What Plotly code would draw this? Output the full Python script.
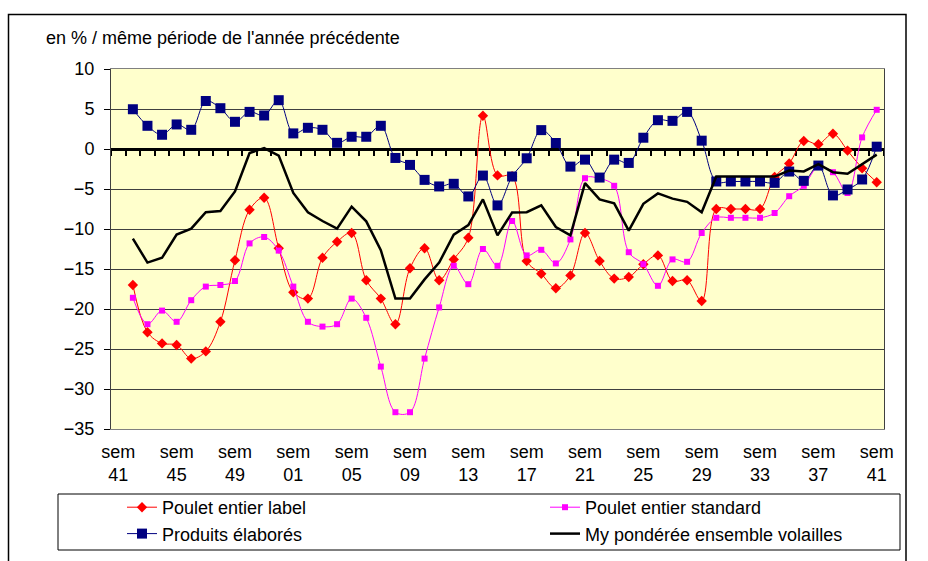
import plotly.graph_objects as go

# ---------------- data ----------------
weeks = [41, 42, 43, 44, 45, 46, 47, 48, 49, 50, 51, 52,
         1, 2, 3, 4, 5, 6, 7, 8, 9, 10, 11, 12, 13, 14, 15, 16, 17, 18, 19, 20,
         21, 22, 23, 24, 25, 26, 27, 28, 29, 30, 31, 32, 33, 34, 35, 36, 37, 38,
         39, 40, 41]

# values from sem 42 (first marker) to sem 41
poulet_label = [-17.0, -22.9, -24.3, -24.5, -26.2, -25.3, -21.6, -13.9, -7.6, -6.1,
                -12.4, -17.9, -18.7, -13.6, -11.6, -10.5, -16.4, -18.7, -21.9, -14.9,
                -12.4, -16.4, -13.8, -11.1, 4.15, -3.3, -3.4, -14.0, -15.6, -17.4,
                -15.8, -10.5, -14.0, -16.2, -16.0, -14.4, -13.3, -16.5, -16.4, -19.0,
                -7.5, -7.5, -7.5, -7.5, -3.5, -1.8, 1.0, 0.6, 1.9, -0.2,
                -2.4, -4.15]
poulet_standard = [-18.6, -21.9, -20.2, -21.6, -18.9, -17.2, -17.0, -16.5, -11.8, -11.0,
                   -12.7, -17.2, -21.6, -22.2, -21.9, -18.7, -21.1, -27.2, -32.9, -32.9,
                   -26.2, -19.8, -14.6, -16.9, -12.5, -14.6, -9.0, -13.3, -12.6, -14.3,
                   -11.3, -3.65, -3.7, -4.6, -12.9, -14.4, -17.1, -13.8, -14.1, -10.5,
                   -8.6, -8.6, -8.6, -8.6, -8.0, -5.9, -4.6, -2.2, -2.9, -5.5,
                   1.45, 4.9]
produits_elabores = [4.97, 2.9, 1.78, 3.07, 2.4, 6.0, 5.1, 3.4, 4.64, 4.19,
                     6.1, 1.95, 2.65, 2.4, 0.77, 1.53, 1.53, 2.9, -1.12, -1.99,
                     -3.86, -4.68, -4.35, -5.93, -3.32, -7.05, -3.44, -1.16, 2.36, 0.75,
                     -2.2, -1.33, -3.57, -1.33, -1.74, 1.41, 3.6, 3.52, 4.64, 1.04,
                     -4.06, -4.06, -4.06, -4.06, -4.23, -2.82, -3.98, -2.07, -5.8, -5.06,
                     -3.81, 0.29]
my_ponderee = [-11.2, -14.2, -13.6, -10.7, -9.95, -7.9, -7.75, -5.3, -0.5, 0.12,
               -0.83, -5.5, -7.9, -9.0, -9.95, -7.2, -9.04, -12.65, -18.7, -18.7,
               -16.3, -14.2, -10.7, -9.5, -6.3, -10.8, -7.95, -7.9, -7.05, -9.75,
               -10.8, -4.27, -6.3, -6.8, -10.2, -6.85, -5.55, -6.2, -6.6, -7.9,
               -3.45, -3.45, -3.45, -3.45, -3.45, -2.7, -2.8, -1.9, -2.9, -3.1,
               -1.9, -0.7]

series_names = ["Poulet entier label", "Poulet entier standard",
                "Produits élaborés", "My pondérée ensemble volailles"]
title_text = "en % / même période de l'année précédente"

# ---------------- layout helpers ----------------
W, H = 928, 561
L, R, T, B = 111, 884, 69, 429  # plot area in pixels


def px(xp):
    return (xp - L) / (R - L)


def py(yp):
    return (B - yp) / (B - T)


FONT = "Liberation Sans, Arial, sans-serif"
FS = 18

idx = list(range(1, len(weeks)))
tick_idx = list(range(0, len(weeks), 4))
tick_text = ["sem<br>%02d" % weeks[i] for i in tick_idx]

fig = go.Figure()
fig.add_trace(go.Scatter(
    x=idx, y=poulet_label, name=series_names[0], mode="lines+markers",
    line=dict(color="#FF0000", width=1, shape="spline", smoothing=1),
    marker=dict(symbol="diamond", size=8, color="#FF0000"),
    legend="legend", legendgroup="a"))
fig.add_trace(go.Scatter(
    x=idx, y=poulet_standard, name=series_names[1], mode="lines+markers",
    line=dict(color="#FF00FF", width=1, shape="spline", smoothing=1),
    marker=dict(symbol="square", size=6, color="#FF00FF"),
    legend="legend2", legendgroup="b"))
fig.add_trace(go.Scatter(
    x=idx, y=produits_elabores, name=series_names[2], mode="lines+markers",
    line=dict(color="#000080", width=1, shape="spline", smoothing=1),
    marker=dict(symbol="square", size=10, color="#000080"),
    legend="legend", legendgroup="c"))
fig.add_trace(go.Scatter(
    x=idx, y=my_ponderee, name=series_names[3], mode="lines",
    line=dict(color="#000000", width=2.5),
    legend="legend2", legendgroup="d", xaxis="x2"))

fig.update_layout(
    width=W, height=H,
    margin=dict(l=L, r=W - R, t=T, b=H - B, pad=0, autoexpand=False),
    paper_bgcolor="white", plot_bgcolor="#FFFFCC",
    font=dict(family=FONT, size=FS, color="black"),
    showlegend=True,
    xaxis=dict(range=[-0.5, len(weeks) - 0.5], tickmode="array",
               tickvals=tick_idx, ticktext=tick_text, showgrid=False,
               zeroline=False, showline=True, linecolor="#808080", linewidth=1,
               mirror=True, ticks="", ticklabelstandoff=6,
               tickfont=dict(size=FS, color="black")),
    xaxis2=dict(range=[-0.5, len(weeks) - 0.5], overlaying="x", anchor="free",
                position=35 / 45, side="bottom", tickmode="array",
                tickvals=[k - 0.5 for k in range(len(weeks) + 1)],
                ticks="outside", ticklen=6, tickwidth=2, tickcolor="black",
                showticklabels=False, showgrid=False, zeroline=False,
                showline=False, layer="below traces"),
    yaxis=dict(range=[-35, 10], tick0=0, dtick=5, showgrid=True,
               gridcolor="#404040", gridwidth=1, zeroline=True,
               zerolinecolor="black", zerolinewidth=2.5, showline=True,
               linecolor="#404040", linewidth=1, mirror=True,
               ticks="outside", ticklen=6, tickcolor="black",
               ticklabelstandoff=6, tickfont=dict(size=FS, color="black")),
    legend=dict(x=px(122), xanchor="left", y=py(489), yanchor="top",
                bgcolor="rgba(0,0,0,0)", borderwidth=0, tracegroupgap=0,
                font=dict(size=FS, color="black")),
    legend2=dict(x=px(545), xanchor="left", y=py(489), yanchor="top",
                 bgcolor="rgba(0,0,0,0)", borderwidth=0, tracegroupgap=0,
                 font=dict(size=FS, color="black")),
    annotations=[dict(text=title_text, x=px(44), y=py(38), xref="paper",
                      yref="paper", xanchor="left", yanchor="middle",
                      showarrow=False, font=dict(size=FS, color="black"))],
    shapes=[
        dict(type="rect", xref="paper", yref="paper", x0=px(58), x1=px(900),
             y0=py(550), y1=py(494), line=dict(color="black", width=1)),
        dict(type="rect", xref="paper", yref="paper", x0=px(8.5), x1=px(906),
             y0=py(580), y1=py(14.5), line=dict(color="black", width=1.5)),
    ],
)

fig.write_html("out.html", config={"displayModeBar": False},
               post_script="document.body.style.margin='0';")
